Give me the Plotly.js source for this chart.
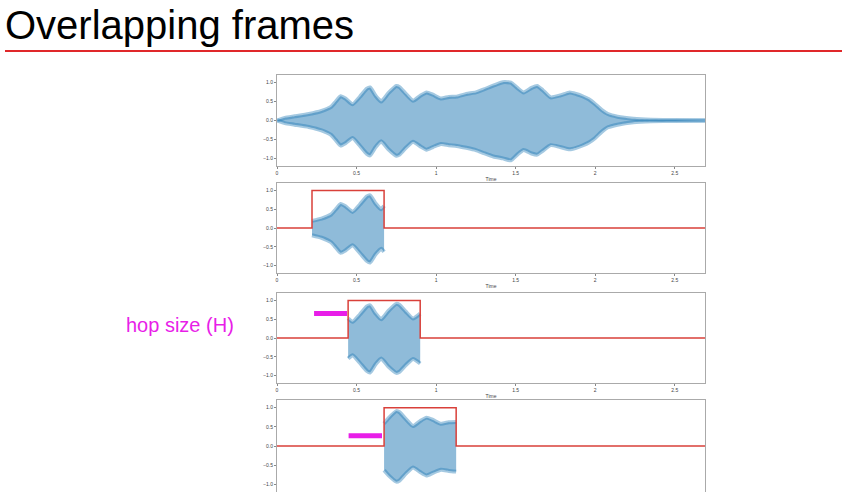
<!DOCTYPE html>
<html>
<head>
<meta charset="utf-8">
<script src="https://cdn.plot.ly/plotly-3.0.1.min.js"></script>
<style>html,body{margin:0;padding:0;background:#fff;}#chart{width:842px;height:492px;}</style>
</head>
<body>
<div id="chart"></div>
<script>
// Amplitude envelope of the waveform
const envTime  = [0, 0.05, 0.11, 0.2, 0.28, 0.34, 0.37, 0.40, 0.43, 0.475, 0.52, 0.565, 0.585, 0.62, 0.655, 0.70, 0.75, 0.77, 0.81, 0.855, 0.90, 0.94, 0.98, 1.03, 1.08, 1.13, 1.19, 1.25, 1.30, 1.36, 1.42, 1.47, 1.51, 1.55, 1.60, 1.635, 1.67, 1.72, 1.78, 1.84, 1.88, 1.92, 1.96, 2.0, 2.04, 2.08, 2.14, 2.24, 2.35, 2.5, 2.69];
const envUpper = [0, 0.07, 0.11, 0.17, 0.25, 0.36, 0.5, 0.64, 0.58, 0.43, 0.62, 0.84, 0.87, 0.65, 0.50, 0.72, 0.91, 0.88, 0.70, 0.52, 0.65, 0.74, 0.68, 0.58, 0.62, 0.63, 0.70, 0.74, 0.82, 0.92, 1.01, 1.00, 0.86, 0.74, 0.86, 0.91, 0.80, 0.61, 0.66, 0.74, 0.70, 0.64, 0.56, 0.43, 0.28, 0.17, 0.10, 0.045, 0.02, 0.01, 0];
const envLower = [0, -0.07, -0.11, -0.17, -0.26, -0.38, -0.52, -0.66, -0.60, -0.46, -0.66, -0.88, -0.92, -0.70, -0.55, -0.76, -0.93, -0.90, -0.72, -0.56, -0.68, -0.77, -0.70, -0.62, -0.65, -0.67, -0.72, -0.78, -0.86, -0.95, -1.0, -1.05, -0.90, -0.78, -0.87, -0.90, -0.80, -0.65, -0.70, -0.76, -0.72, -0.66, -0.58, -0.46, -0.30, -0.18, -0.11, -0.045, -0.02, -0.01, 0];

// Frames (rectangular windows) shown in panels 2-4
const frameStart  = [0.22, 0.447, 0.673];
const frameLength = 0.453;
const frameHeight = 1.0;

// Hop-size bars in panels 3-4
const hopStart = [0.233, 0.45];
const hopEnd   = [0.44, 0.66];
const hopLevel = [0.65, 0.27];

const timeMax = 2.69;
const xTickVals = [0, 0.5, 1, 1.5, 2, 2.5];
const xTickText = ['0', '0.5', '1', '1.5', '2', '2.5'];
const yTickVals = [-1, -0.5, 0, 0.5, 1];
const yTickText = ['\u22121.0', '\u22120.5', '0.0', '0.5', '1.0'];

const W = 842, H = 492;
const fillColor = 'rgba(31,119,180,0.5)';
const bandColor = 'rgba(31,119,180,0.4)';
const red = '#d9403a';
const magenta = '#e81ee8';

function interp(t, xs, ys) {
  for (let i = 0; i < xs.length - 1; i++) {
    if (t >= xs[i] && t <= xs[i + 1]) {
      const f = (t - xs[i]) / (xs[i + 1] - xs[i]);
      return ys[i] + f * (ys[i + 1] - ys[i]);
    }
  }
  return 0;
}
function clip(t0, t1, ys) {
  const x = [t0], y = [interp(t0, envTime, ys)];
  envTime.forEach((t, i) => { if (t > t0 && t < t1) { x.push(t); y.push(ys[i]); } });
  x.push(t1); y.push(interp(t1, envTime, ys));
  return {x, y};
}

// panel pixel boxes [top, bottom]
const panels = [[75, 166], [183, 273], [293, 383], [400, 492]];
const xDom = [277 / W, 705 / W];

const data = [];
const layout = {
  width: W, height: H,
  margin: {l: 0, r: 0, t: 0, b: 0},
  paper_bgcolor: '#fff', plot_bgcolor: '#fff',
  showlegend: false,
  font: {family: 'Liberation Sans, Arial, sans-serif'},
  shapes: [], annotations: []
};

function addWave(k, x, up, lo) {
  const xa = 'x' + (k === 0 ? '' : k + 1), ya = 'y' + (k === 0 ? '' : k + 1);
  const shp = {shape: 'spline', smoothing: 0.5};
  data.push({x: x, y: lo, xaxis: xa, yaxis: ya, mode: 'lines', line: Object.assign({width: 0, color: fillColor}, shp), hoverinfo: 'skip'});
  data.push({x: x, y: up, xaxis: xa, yaxis: ya, mode: 'lines', fill: 'tonexty', fillcolor: fillColor, line: Object.assign({width: 0, color: fillColor}, shp), hoverinfo: 'skip'});
  data.push({x: x, y: up, xaxis: xa, yaxis: ya, mode: 'lines', line: Object.assign({width: 4, color: bandColor}, shp), hoverinfo: 'skip'});
  data.push({x: x, y: lo, xaxis: xa, yaxis: ya, mode: 'lines', line: Object.assign({width: 4, color: bandColor}, shp), hoverinfo: 'skip'});
}

for (let k = 0; k < 4; k++) {
  const sfx = k === 0 ? '' : String(k + 1);
  const [top, bot] = panels[k];
  const last = k === 3;
  layout['xaxis' + sfx] = {
    domain: xDom, anchor: 'y' + sfx, range: [0, timeMax],
    tickvals: xTickVals, ticktext: xTickText, tickfont: {size: 5, color: '#444'},
    showticklabels: !last,
    ticks: last ? '' : 'outside', ticklen: 2, tickcolor: '#888',
    showline: true, mirror: true, linecolor: '#aaa', linewidth: 1,
    showgrid: false, zeroline: false,
    title: {text: last ? '' : 'Time', font: {size: 5, color: '#444'}, standoff: 2}
  };
  layout['yaxis' + sfx] = {
    domain: [1 - bot / H, 1 - top / H], anchor: 'x' + sfx, range: [-1.2, 1.2],
    tickvals: yTickVals, ticktext: yTickText, tickfont: {size: 5, color: '#444'},
    ticks: 'outside', ticklen: 2, tickcolor: '#888',
    showline: true, mirror: true, linecolor: '#aaa', linewidth: 1,
    showgrid: false, zeroline: false
  };
  if (k === 0) {
    addWave(0, envTime, envUpper, envLower);
  } else {
    const s = frameStart[k - 1], e = s + frameLength;
    const u = clip(s, e, envUpper), l = clip(s, e, envLower);
    addWave(k, u.x, u.y, l.y);
    data.push({x: [0, s, s, e, e, timeMax], y: [0, 0, frameHeight, frameHeight, 0, 0],
      xaxis: 'x' + sfx, yaxis: 'y' + sfx, mode: 'lines', line: {width: 1.5, color: red}, hoverinfo: 'skip'});
    if (k >= 2) {
      const h = k - 2;
      data.push({x: [hopStart[h], hopEnd[h]], y: [hopLevel[h], hopLevel[h]],
        xaxis: 'x' + sfx, yaxis: 'y' + sfx, mode: 'lines', line: {width: 5, color: magenta}, hoverinfo: 'skip'});
    }
  }
}

layout.annotations.push({
  text: 'Overlapping frames', xref: 'paper', yref: 'paper', x: 3 / W, y: 1 - 1 / H,
  xanchor: 'left', yanchor: 'top', showarrow: false,
  font: {size: 40, color: '#000', family: 'Liberation Sans, Arial, sans-serif'}
});
layout.annotations.push({
  text: 'hop size (H)', xref: 'paper', yref: 'paper', x: 124 / W, y: 1 - 325 / H,
  xanchor: 'left', yanchor: 'middle', showarrow: false,
  font: {size: 20, color: magenta, family: 'Liberation Sans, Arial, sans-serif'}
});
layout.shapes.push({
  type: 'line', xref: 'paper', yref: 'paper', x0: 5 / W, x1: 1, y0: 1 - 51 / H, y1: 1 - 51 / H,
  line: {color: '#e0282a', width: 2}
});

Plotly.newPlot('chart', data, layout, {displayModeBar: false, staticPlot: true});
</script>
</body>
</html>
